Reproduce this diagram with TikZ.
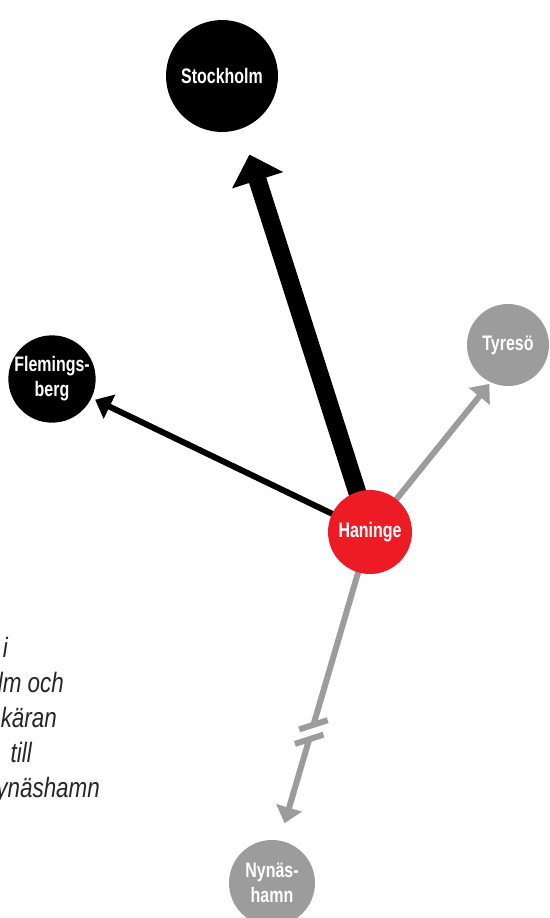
\documentclass[tikz,border=0pt]{standalone}
\usepackage{fontspec}
\setmainfont{Liberation Sans}
\newfontfamily\lblfont{Liberation Sans}[FakeStretch=0.76]
\newfontfamily\notefont{Liberation Sans}[FakeStretch=0.8]
\usetikzlibrary{arrows.meta}
\definecolor{hred}{HTML}{ED1C24}
\definecolor{lgray}{HTML}{9C9C9C}
\pgfdeclarelayer{back}
\pgfsetlayers{back,main}
\tikzset{
  city/.style={circle, minimum size=#1, inner sep=0pt, text=white, align=center,
    font=\lblfont\bfseries\fontsize{21}{25}\selectfont},
  note/.style={anchor=base east, inner sep=0pt, text=black!85,
    font=\notefont\itshape\fontsize{28}{35}\selectfont},
  thinarrow/.style={line width=6pt, -{Triangle[length=16pt,width=26pt]}},
  bigarrow/.style={line width=18pt, -{Triangle[length=27pt,width=52pt]}},
  breakbar/.style={line width=6pt, draw=lgray}
}
\begin{document}
\begin{tikzpicture}[x=1pt,y=-1pt]
\useasboundingbox (0,0) rectangle (549,918);
% nodes
\node[city=112pt, fill=black] (sto) at (222,76) {Stockholm};
\node[city=84pt, fill=black] (fle) at (52,379) {Flemings-\\berg};
\node[city=82pt, fill=lgray] (tyr) at (508,345) {Tyresö};
\node[city=84pt, fill=hred] (han) at (370,532) {Haninge};
\node[city=86pt, fill=lgray] (nyn) at (272,883) {Nynäs-\\hamn};
% note text (clipped at left edge)
\node[note] (n1) at (8,657) {i};
\node[note] (n2) at (64,692) {lm och};
\node[note] (n3) at (57,727) {käran};
\node[note] (n4) at (32,762) {till};
\node[note] (n5) at (100,797) {ynäshamn};
\begin{pgfonlayer}{back}
  \fill[white] (0,0) rectangle (549,918);
  \draw[bigarrow, draw=black, fill=black, shorten >=27pt] (han.center) -- (sto.290);
  \draw[thinarrow, draw=black, fill=black, shorten >=4pt] (han.center) -- (fle);
  \draw[thinarrow, draw=lgray, fill=lgray, shorten >=2pt] (han.center) -- (tyr.245);
  \path (han.center) -- coordinate[pos=0.625] (b1) coordinate[pos=0.672] (b2) (nyn.80);
  \draw[line width=6pt, draw=lgray] (han.center) -- (b1);
  \draw[thinarrow, draw=lgray, fill=lgray, shorten >=18pt] (b2) -- (nyn.80);
\end{pgfonlayer}
\draw[breakbar] ([shift={(198:15pt)}]b1) -- ([shift={(18:15pt)}]b1);
\draw[breakbar] ([shift={(198:15pt)}]b2) -- ([shift={(18:15pt)}]b2);
\end{tikzpicture}
\end{document}
